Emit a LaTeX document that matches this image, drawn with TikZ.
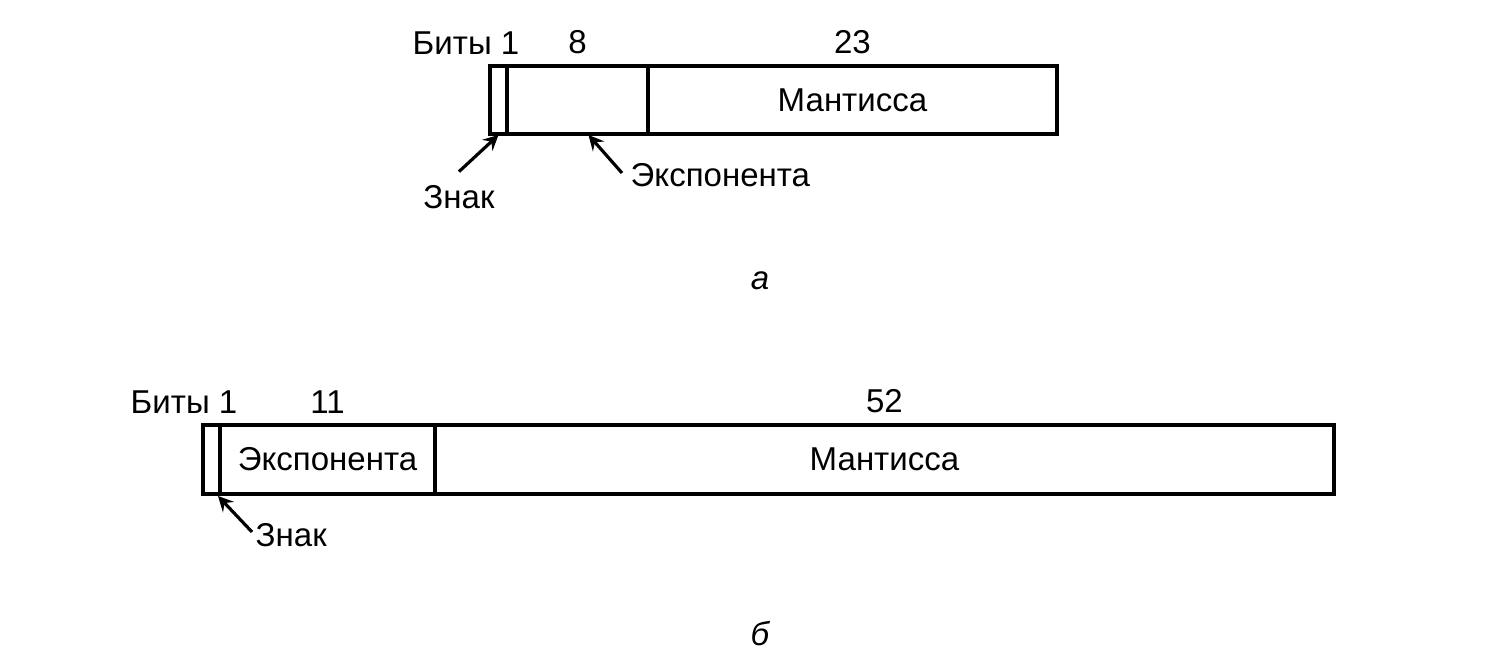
\documentclass[tikz,border=0pt]{standalone}
\usepackage{fontspec}
\setmainfont{Liberation Sans}
\usetikzlibrary{arrows,positioning,calc}

\begin{document}
\begin{tikzpicture}[
    field/.style={rectangle, draw, line width=0.9pt, minimum height=0.68cm, inner sep=0pt, outer sep=0pt, font=\fontsize{9.4}{11}\selectfont},
    lbl/.style={inner sep=0pt, font=\fontsize{9.4}{11}\selectfont},
    arrow/.style={->, >=stealth, line width=0.9pt},
]
\useasboundingbox (0,0) rectangle (14.97,-6.62);

% === (a) SINGLE PRECISION ===
\node[field, anchor=north west, minimum width=0.17cm] (signA) at (4.90,-0.66) {};
\node[field, right=0cm of signA, minimum width=1.41cm] (expA) {};
\node[field, right=0cm of expA, minimum width=4.09cm] (mantA) {Мантисса};

\node[lbl, anchor=south east] (bitsA) at ($(signA.north east)+(0.13,0.11)$) {Биты 1};
\node[lbl, above=0.11cm of expA] (nexpA) {8};
\node[lbl, above=0.11cm of mantA] (nmantA) {23};

\node[lbl] (znakA) at (4.59,-1.97) {Знак};
\node[lbl, anchor=west] (expoA) at (6.30,-1.75) {Экспонента};

\draw[arrow] ([yshift=0.13cm]znakA.north) -- ([yshift=-0.01cm]signA.south);
\draw[arrow] ([xshift=-0.08cm, yshift=0.02cm]expoA.west) -- ([xshift=0.11cm, yshift=-0.01cm]expA.south);

\node[lbl, font=\fontsize{9.4}{11}\selectfont\itshape] (capA) at (7.60,-2.81) {а};

% === (b) DOUBLE PRECISION ===
\node[field, anchor=north west, minimum width=0.17cm, minimum height=0.69cm] (signB) at (2.03,-4.25) {};
\node[field, right=0cm of signB, minimum width=2.15cm, minimum height=0.69cm] (expB) {Экспонента};
\node[field, right=0cm of expB, minimum width=8.99cm, minimum height=0.69cm] (mantB) {Мантисса};

\node[lbl, anchor=south east] (bitsB) at ($(signB.north east)+(0.18,0.11)$) {Биты 1};
\node[lbl, above=0.11cm of expB] (nexpB) {11};
\node[lbl, above=0.11cm of mantB] (nmantB) {52};

\node[lbl, anchor=west] (znakB) at (2.55,-5.35) {Знак};
\draw[arrow] ([xshift=-0.03cm, yshift=0.03cm]znakB.west) -- ([xshift=-0.02cm, yshift=-0.02cm]signB.south east);

\node[lbl, font=\fontsize{9.4}{11}\selectfont\itshape] (capB) at (7.60,-6.34) {б};

\end{tikzpicture}
\end{document}
